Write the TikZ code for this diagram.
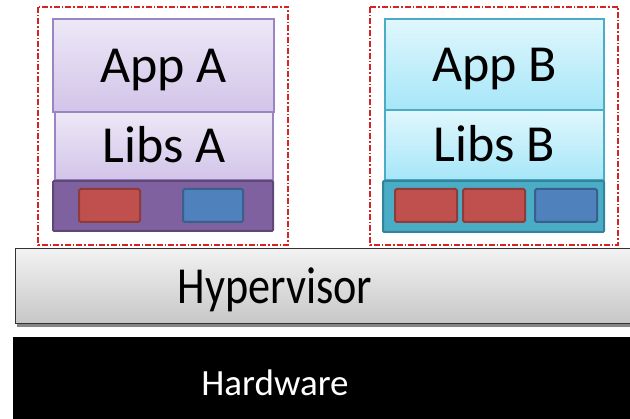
\documentclass[tikz,border=0pt]{standalone}
\usepackage{fontspec}
\setmainfont{Carlito}
\usetikzlibrary{shadows}

\definecolor{appAtop}{HTML}{EDE8F6}
\definecolor{appAbot}{HTML}{D2C4E9}
\definecolor{appAline}{HTML}{9A85C2}
\definecolor{barA}{HTML}{7F619F}
\definecolor{barAline}{HTML}{5F4878}
\definecolor{appBtop}{HTML}{E0F7FD}
\definecolor{appBbot}{HTML}{A6E6F8}
\definecolor{appBline}{HTML}{4BACC6}
\definecolor{barB}{HTML}{4BACC6}
\definecolor{barBline}{HTML}{31849B}
\definecolor{redblk}{HTML}{C0504D}
\definecolor{redline}{HTML}{8E3B39}
\definecolor{blueblk}{HTML}{4F81BD}
\definecolor{blueline}{HTML}{3A5F8C}
\definecolor{dashred}{HTML}{D42424}

\tikzset{
  layer/.style={draw, line width=1.3pt, inner sep=0pt, text height=33.5pt,
    text depth=0pt, font=\fontsize{52}{52}\selectfont},
  layerA/.style={layer, appAline, text=black, top color=appAtop, bottom color=appAbot},
  layerB/.style={layer, appBline, text=black, top color=appBtop, bottom color=appBbot},
  barbox/.style={draw, line width=2pt, rounded corners=1pt, inner sep=0pt},
  chip/.style={draw, line width=2pt, rounded corners=1.5pt, inner sep=0pt,
    minimum height=33pt},
  vmframe/.style={dashred, line width=1.3pt,
    dash pattern=on 6pt off 2pt on 1.5pt off 2pt}
}

\begin{document}
\begin{tikzpicture}[x=1pt,y=-1pt]
\useasboundingbox (0,0) rectangle (630,419);

% VM A
\coordinate (frameA1) at (38,7);
\coordinate (frameA2) at (288,245);
\node [layerA, minimum width=221pt, minimum height=93pt] (appA) at (163.5,65.5) {App A};
\node [layerA, minimum width=218pt, minimum height=68pt] (libsA) at (164,146) {Libs A};
\node [barbox, barAline, fill=barA, minimum width=220pt, minimum height=50pt] (barA) at (163,206) {};
\node [chip, redline, fill=redblk, minimum width=61pt] (redA) at (109.5,205.5) {};
\node [chip, blueline, fill=blueblk, minimum width=60pt] (blueA) at (213,205.5) {};
\draw [vmframe] (frameA1) rectangle (frameA2);

% VM B
\coordinate (frameB1) at (370,7);
\coordinate (frameB2) at (618,245);
\node [layerB, minimum width=219pt, minimum height=91pt] (appB) at (494.5,64.5) {App B};
\node [layerB, minimum width=219pt, minimum height=70pt] (libsB) at (494.5,145) {Libs B};
\node [barbox, barBline, fill=barB, minimum width=221pt, minimum height=51pt] (barB) at (493.5,206.5) {};
\node [chip, redline, fill=redblk, minimum width=62pt] (redB1) at (426,205.5) {};
\node [chip, redline, fill=redblk, minimum width=62pt] (redB2) at (494,205.5) {};
\node [chip, blueline, fill=blueblk, minimum width=62pt] (blueB) at (566,205.5) {};
\draw [vmframe] (frameB1) rectangle (frameB2);

% hypervisor and hardware
\node [draw=black!80, line width=1.3pt, top color=black!5, bottom color=black!22,
  drop shadow={shadow xshift=1pt, shadow yshift=-3pt, fill=black!60, opacity=0.8},
  minimum width=640pt, minimum height=75pt, anchor=north west] (hyper) at (15,248) {};
\node [font=\fontsize{52}{52}\selectfont, text height=33.5pt, text depth=0pt, inner sep=0pt]
  (hyperlabel) at (275,286.5) {\scalebox{0.85}[1]{Hypervisor}};
\node [fill=black, minimum width=640pt, minimum height=95pt, anchor=north west] (hw) at (13,337) {};
\node [text=white, font=\fontsize{37}{37}\selectfont, text height=24pt, text depth=0pt, inner sep=0pt]
  (hwlabel) at (275,383.5) {Hardware};
\end{tikzpicture}
\end{document}
